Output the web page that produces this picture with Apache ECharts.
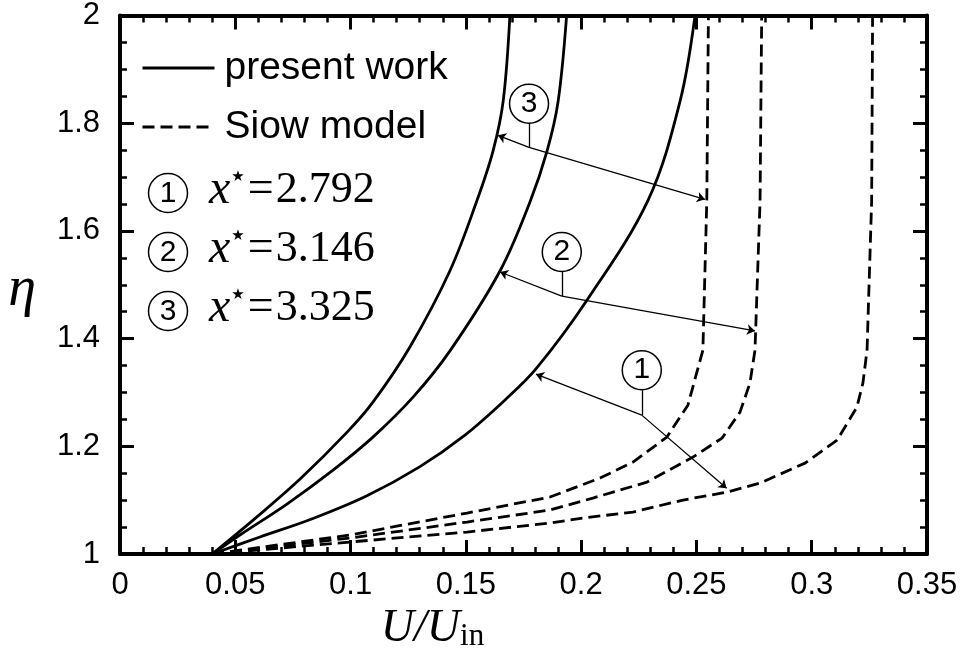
<!DOCTYPE html>
<html>
<head>
<meta charset="utf-8">
<script src="https://cdn.jsdelivr.net/npm/echarts@6/dist/echarts.min.js"></script>
<style>
html,body{margin:0;padding:0;background:#fff;}
#chart{width:968px;height:660px;}
</style>
</head>
<body>
<div id="chart"></div>
<script>
// ---- data ----
const xTickLabels = ['0', '0.05', '0.1', '0.15', '0.2', '0.25', '0.3', '0.35'];
const yTickLabels = ['1', '1.2', '1.4', '1.6', '1.8', '2'];

// present work (solid), curves 1..3
const present1 = [[0.040,1.0],[0.0607,1.0315],[0.0837,1.0660],[0.1071,1.1082],[0.1301,1.1623],[0.1496,1.2208],[0.1670,1.2861],[0.1804,1.3436],[0.2025,1.4712],[0.2290,1.6568],[0.2429,1.8408],[0.2494,2.0]];
const present2 = [[0.040,1.0],[0.0520,1.0353],[0.0724,1.0928],[0.0924,1.1558],[0.1097,1.2171],[0.1271,1.2913],[0.1431,1.3772],[0.1648,1.5256],[0.1778,1.6536],[0.1852,1.7482],[0.1900,1.8401],[0.1937,2.0]];
const present3 = [[0.040,1.0],[0.0594,1.0690],[0.0781,1.1391],[0.0985,1.2263],[0.1097,1.2820],[0.1258,1.3850],[0.1431,1.5260],[0.1547,1.6549],[0.1618,1.7486],[0.1662,1.8414],[0.1691,2.0]];

// Siow model (dashed), curves 1..3
const siow1 = [[0.040,1.0],[0.0998,1.0223],[0.1505,1.0408],[0.1865,1.0575],[0.2008,1.0668],[0.2225,1.0779],[0.2442,1.1002],[0.2633,1.1150],[0.2776,1.1317],[0.2971,1.1688],[0.3110,1.2115],[0.3196,1.2727],[0.3222,1.3173],[0.3240,1.3785],[0.3260,1.6568],[0.3264,2.0]];
const siow2 = [[0.040,1.0],[0.0998,1.0297],[0.1505,1.0594],[0.1865,1.0816],[0.2051,1.1039],[0.2286,1.1336],[0.2485,1.1800],[0.2611,1.2152],[0.2689,1.2635],[0.2732,1.3173],[0.2754,1.3785],[0.2776,1.6568],[0.2783,2.0]];
const siow3 = [[0.040,1.0],[0.0998,1.0353],[0.1505,1.0761],[0.1865,1.1058],[0.2082,1.1410],[0.2225,1.1707],[0.2372,1.2171],[0.2463,1.2764],[0.2528,1.3785],[0.2545,1.6568],[0.2552,2.0]];

// annotation callouts (in data coordinates)
const calloutLabels = ['1', '2', '3'];
const calloutCircles = [[0.2263,1.3414],[0.1916,1.5609],[0.1774,1.8362]];
const calloutStubs = [[[0.2263,1.3043],[0.2263,1.2579]],[[0.1916,1.5237],[0.1916,1.4787]],[[0.1774,1.8010],[0.1774,1.7551]]];
const calloutArrows = [
  [[0.2263,1.2579],[0.1804,1.3340]], [[0.2263,1.2579],[0.2631,1.1219]],
  [[0.1916,1.4787],[0.1648,1.5237]], [[0.1916,1.4787],[0.2754,1.4143]],
  [[0.1774,1.7551],[0.1639,1.7774]], [[0.1774,1.7551],[0.2537,1.6586]]
];
const xStarValues = ['2.792', '3.146', '3.325'];

// ---- chart ----
const chart = echarts.init(document.getElementById('chart'), null, {renderer: 'canvas'});
const SANS = 'Liberation Sans';
const SERIF = 'Liberation Serif';

function solid(name, data) {
  return {type:'line', name, data, smooth:0.35, symbol:'none', z:3,
    lineStyle:{color:'#000', width:2.8, type:'solid'}, itemStyle:{color:'#000'}};
}
function dashed(name, data) {
  return {type:'line', name, data, smooth:false, symbol:'none', z:3,
    lineStyle:{color:'#000', width:2.8, type:[12,6]}, itemStyle:{color:'#000'}};
}

const baseX = {
  type:'value', min:0, max:0.35, interval:0.05,
  axisLine:{show:true, onZero:false, lineStyle:{color:'#000', width:4}},
  axisTick:{show:true, inside:true, length:14, lineStyle:{color:'#000', width:3}},
  minorTick:{show:true, splitNumber:5, length:7, lineStyle:{color:'#000', width:2.5}},
  splitLine:{show:false}, minorSplitLine:{show:false}
};
const baseY = {
  type:'value', min:1, max:2, interval:0.2,
  axisLine:{show:true, onZero:false, lineStyle:{color:'#000', width:4}},
  axisTick:{show:true, inside:true, length:14, lineStyle:{color:'#000', width:3}},
  minorTick:{show:true, splitNumber:4, length:7, lineStyle:{color:'#000', width:2.5}},
  splitLine:{show:false}, minorSplitLine:{show:false}
};

const graphics = [];
const rowY = [190, 249, 308];
const circleY = [193, 252, 311];
xStarValues.forEach((v, i) => {
  graphics.push({type:'circle', shape:{cx:168, cy:circleY[i], r:19.5}, style:{fill:'#fff', stroke:'#000', lineWidth:1.5}, z:10});
  graphics.push({type:'text', x:168, y:circleY[i]+1, z:11, style:{text:calloutLabels[i], font:'30px "Liberation Sans"', fill:'#000', align:'center', verticalAlign:'middle'}});
  graphics.push({type:'text', x:209, y:rowY[i], z:11, style:{
    text:'{i|x}{s|\u2605}{e|=}{r|' + v + '}', verticalAlign:'middle', align:'left',
    rich:{
      i:{font:'italic 48px "Liberation Serif"', color:'#000', padding:[0,1,0,0]},
      s:{fontFamily:'DejaVu Sans', fontSize:15, padding:[0,3,26,0], color:'#000'},
      e:{fontFamily:SERIF, fontSize:46, color:'#000', padding:[0,2,0,0]},
      r:{fontFamily:SERIF, fontSize:44, color:'#000'}
    }}});
});

const option = {
  animation:false,
  backgroundColor:'#fff',
  grid:{left:120, right:41, top:15, bottom:106, containLabel:false},
  legend:{
    orient:'vertical', left:141, top:48, padding:0, itemWidth:72, itemHeight:20, itemGap:19,
    selectedMode:false, data:['present work','Siow model'],
    lineStyle:{width:3},
    itemStyle:{opacity:0, color:'transparent', borderWidth:0},
    textStyle:{fontFamily:SANS, fontSize:39, color:'#000', lineHeight:40, padding:[0,0,0,5]}
  },
  xAxis:[
    Object.assign({}, baseX, {position:'bottom',
      name:'{u|U/U}{s|in}', nameLocation:'middle', nameGap:42,
      nameTextStyle:{padding:[0,182,0,0], rich:{
        u:{fontFamily:SERIF, fontStyle:'italic', fontSize:46, color:'#000'},
        s:{fontFamily:SERIF, fontSize:31, padding:[16,0,0,0], color:'#000'}}},
      axisLabel:{show:true, margin:16, fontFamily:SANS, fontSize:31, color:'#000',
        formatter:(v, i) => xTickLabels[i]}}),
    Object.assign({}, baseX, {position:'top', axisLabel:{show:false}})
  ],
  yAxis:[
    Object.assign({}, baseY, {position:'left',
      name:'{e|\u03B7}', nameLocation:'middle', nameGap:84, nameRotate:0,
      nameTextStyle:{rich:{e:{fontFamily:SERIF, fontStyle:'italic', fontSize:56, color:'#000', padding:[12,0,0,0]}}},
      axisLabel:{show:true, margin:20, fontFamily:SANS, fontSize:31, color:'#000',
        formatter:(v, i) => yTickLabels[i]}}),
    Object.assign({}, baseY, {position:'right', axisLabel:{show:false}})
  ],
  graphic:graphics,
  series:[
    solid('present work', present1),
    solid('present work', present2),
    solid('present work', present3),
    dashed('Siow model', siow1),
    dashed('Siow model', siow2),
    dashed('Siow model', siow3),
    {type:'lines', coordinateSystem:'cartesian2d', z:5, silent:true,
      symbol:['none','none'],
      lineStyle:{color:'#000', width:1.3, opacity:1},
      data:calloutStubs.map(c => ({coords:c}))},
    {type:'lines', coordinateSystem:'cartesian2d', z:5, silent:true,
      symbol:['none','arrow'], symbolSize:8,
      lineStyle:{color:'#000', width:1.3, opacity:1},
      data:calloutArrows.map(c => ({coords:c}))},
    {type:'scatter', z:6, silent:true, symbol:'circle', symbolSize:39,
      itemStyle:{color:'#fff', borderColor:'#000', borderWidth:1.5, opacity:1},
      label:{show:true, position:'inside', fontFamily:SANS, fontSize:30, color:'#000',
        formatter:(p) => calloutLabels[p.dataIndex]},
      data:calloutCircles}
  ]
};
chart.setOption(option);
</script>
</body>
</html>
